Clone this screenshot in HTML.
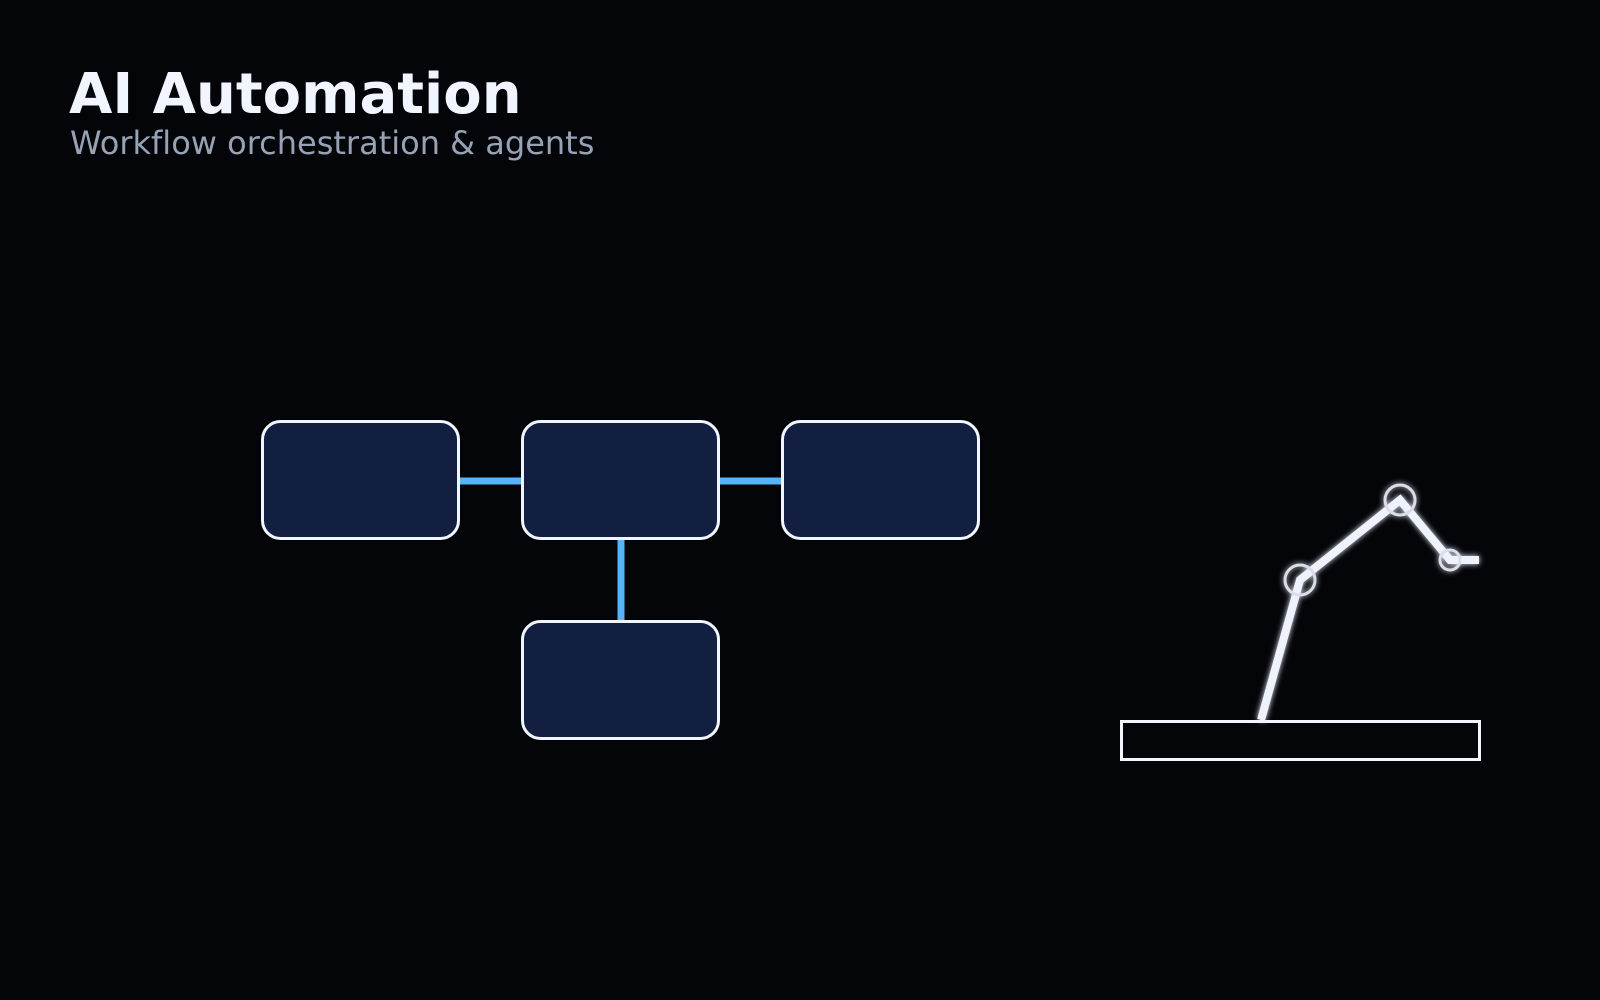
<!DOCTYPE html>
<html><head><meta charset="utf-8"><style>
html,body{margin:0;padding:0;background:#030509;}
svg{display:block}
</style></head><body>
<svg width="1600" height="1000" viewBox="0 0 1600 1000" xmlns="http://www.w3.org/2000/svg">
<defs>
<filter id="g" x="-20%" y="-20%" width="140%" height="140%"><feGaussianBlur stdDeviation="3" result="b"/><feMerge><feMergeNode in="b"/><feMergeNode in="SourceGraphic"/></feMerge></filter>
</defs>
<rect width="1600" height="1000" fill="#030509"/>
<text x="69" y="113" font-family="DejaVu Sans, Liberation Sans, sans-serif" font-weight="bold" font-size="56" fill="#f1f5ff">AI Automation</text>
<text x="70" y="154" font-family="DejaVu Sans, Liberation Sans, sans-serif" font-size="32" style="font-variant-ligatures:none" fill="#97a2b5">Workflow orchestration &amp; agents</text>
<g stroke="#58b4f8" stroke-width="7">
<line x1="460" y1="481" x2="522" y2="481"/>
<line x1="720" y1="481" x2="782" y2="481"/>
<line x1="621" y1="539" x2="621" y2="621"/>
</g>
<g fill="#131f40" stroke="#f1f5ff" stroke-width="3">
<rect x="262.5" y="421.5" width="196" height="117" rx="18"/>
<rect x="522.5" y="421.5" width="196" height="117" rx="18"/>
<rect x="782.5" y="421.5" width="196" height="117" rx="18"/>
<rect x="522.5" y="621.5" width="196" height="117" rx="18"/>
</g>
<rect x="1121.5" y="721.5" width="358" height="38" fill="none" stroke="#f1f5ff" stroke-width="3"/>
<g filter="url(#g)">
<polyline points="1261,720 1300,580 1400,500 1450,560 1479,560" fill="none" stroke="#eef2fc" stroke-width="8"/>
<g fill="none" stroke="#d9dee8" stroke-width="3">
<circle cx="1300" cy="580" r="15"/>
<circle cx="1400" cy="500" r="15"/>
<circle cx="1450" cy="560" r="10"/>
</g>
</g>
</svg>
</body></html>
